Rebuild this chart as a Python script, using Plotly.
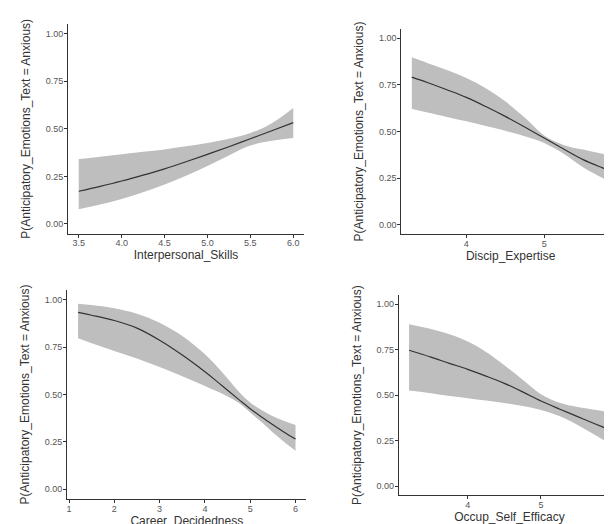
import plotly.graph_objects as go

W, H = 612, 524
YTITLE = "P(Anticipatory_Emotions_Text = Anxious)"

# Panel 1: Interpersonal_Skills
p1_x = [3.5, 3.75, 4.0, 4.25, 4.5, 4.75, 5.0, 5.25, 5.5, 5.75, 6.0]
p1_fit = [0.172, 0.198, 0.226, 0.257, 0.290, 0.327, 0.366, 0.406, 0.448, 0.490, 0.533]
p1_upper = [0.341, 0.354, 0.366, 0.379, 0.392, 0.408, 0.426, 0.448, 0.478, 0.530, 0.610]
p1_lower = [0.077, 0.102, 0.131, 0.167, 0.207, 0.254, 0.305, 0.360, 0.412, 0.437, 0.452]
p1_ticks = [3.5, 4.0, 4.5, 5.0, 5.5, 6.0]

# Panel 2: Discip_Expertise
p2_x = [3.3, 3.5, 3.75, 4.0, 4.25, 4.5, 4.75, 5.0, 5.25, 5.5, 5.75, 6.0]
p2_fit = [0.792, 0.763, 0.724, 0.683, 0.634, 0.581, 0.524, 0.465, 0.406, 0.349, 0.305, 0.265]
p2_upper = [0.898, 0.868, 0.830, 0.787, 0.732, 0.662, 0.575, 0.479, 0.428, 0.403, 0.380, 0.356]
p2_lower = [0.622, 0.602, 0.578, 0.555, 0.530, 0.504, 0.474, 0.438, 0.380, 0.308, 0.250, 0.198]
p2_ticks = [4, 5, 6]

# Panel 3: Career_Decidedness
p3_x = [1.2, 1.5, 2.0, 2.5, 3.0, 3.5, 4.0, 4.25, 4.5, 4.75, 5.0, 5.25, 5.5, 5.75, 6.0]
p3_fit = [0.933, 0.918, 0.890, 0.850, 0.786, 0.708, 0.620, 0.572, 0.522, 0.473, 0.425, 0.381, 0.340, 0.301, 0.265]
p3_upper = [0.979, 0.972, 0.955, 0.926, 0.878, 0.808, 0.712, 0.652, 0.585, 0.515, 0.458, 0.418, 0.385, 0.360, 0.339]
p3_lower = [0.796, 0.770, 0.729, 0.690, 0.645, 0.596, 0.545, 0.518, 0.490, 0.455, 0.405, 0.355, 0.300, 0.250, 0.204]
p3_ticks = [1, 2, 3, 4, 5, 6]

# Panel 4: Occup_Self_Efficacy
p4_x = [3.2, 3.5, 3.75, 4.0, 4.25, 4.5, 4.75, 5.0, 5.25, 5.5, 5.75, 6.0]
p4_fit = [0.747, 0.709, 0.675, 0.642, 0.605, 0.565, 0.518, 0.468, 0.424, 0.382, 0.340, 0.299]
p4_upper = [0.890, 0.864, 0.835, 0.795, 0.738, 0.665, 0.585, 0.505, 0.458, 0.435, 0.418, 0.402]
p4_lower = [0.525, 0.510, 0.495, 0.483, 0.470, 0.457, 0.440, 0.418, 0.385, 0.336, 0.278, 0.217]
p4_ticks = [4, 5, 6]

y_ticks = [0.0, 0.25, 0.5, 0.75, 1.0]
y_ticktext = ["0.00", "0.25", "0.50", "0.75", "1.00"]

panels = [
    dict(x=p1_x, fit=p1_fit, up=p1_upper, lo=p1_lower, ticks=p1_ticks, fmt="{:.1f}",
         title="Interpersonal_Skills", xr=[3.375, 6.125], xd=[60 / W, 296 / W],
         yd=[1 - 225.5 / H, 1 - 16.2 / H]),
    dict(x=p2_x, fit=p2_fit, up=p2_upper, lo=p2_lower, ticks=p2_ticks, fmt="{:d}",
         title="Discip_Expertise", xr=[3.165, 5.974], xd=[393.3 / W, 1.0],
         yd=[1 - 226 / H, 1 - 21 / H]),
    dict(x=p3_x, fit=p3_fit, up=p3_upper, lo=p3_lower, ticks=p3_ticks, fmt="{:d}",
         title="Career_Decidedness", xr=[0.96, 6.24], xd=[59.2 / W, 298.4 / W],
         yd=[1 - 490.8 / H, 1 - 282.2 / H]),
    dict(x=p4_x, fit=p4_fit, up=p4_upper, lo=p4_lower, ticks=p4_ticks, fmt="{:d}",
         title="Occup_Self_Efficacy", xr=[3.06, 6.078], xd=[390.8 / W, 1.0],
         yd=[1 - 487.1 / H, 1 - 287.2 / H]),
]

fig = go.Figure()
layout = {}
FONT = "Liberation Sans, Arial, sans-serif"
for i, p in enumerate(panels, start=1):
    xa = "x" if i == 1 else f"x{i}"
    ya = "y" if i == 1 else f"y{i}"
    fig.add_trace(go.Scatter(x=p["x"], y=p["lo"], mode="lines",
                             line=dict(width=0, shape="spline", smoothing=1),
                             xaxis=xa, yaxis=ya, showlegend=False, hoverinfo="skip"))
    fig.add_trace(go.Scatter(x=p["x"], y=p["up"], mode="lines",
                             line=dict(width=0, shape="spline", smoothing=1),
                             fill="tonexty", fillcolor="#BEBEBE",
                             xaxis=xa, yaxis=ya, showlegend=False, hoverinfo="skip"))
    fig.add_trace(go.Scatter(x=p["x"], y=p["fit"], mode="lines",
                             line=dict(color="#333333", width=1.2, shape="spline", smoothing=1),
                             xaxis=xa, yaxis=ya, showlegend=False))
    xk = "xaxis" if i == 1 else f"xaxis{i}"
    yk = "yaxis" if i == 1 else f"yaxis{i}"
    layout[xk] = dict(
        domain=p["xd"], range=p["xr"], anchor=ya,
        tickvals=p["ticks"], ticktext=[p["fmt"].format(t) for t in p["ticks"]],
        ticks="outside", ticklen=3, tickwidth=1, tickcolor="#333333",
        showline=True, linecolor="#333333", linewidth=1, mirror=False,
        showgrid=False, zeroline=False,
        ticklabelstandoff=-2,
        tickfont=dict(family=FONT, size=9, color="#555555"),
        title=dict(text=p["title"], font=dict(family=FONT, size=12, color="#333333"),
                   standoff=2),
        automargin=False,
    )
    layout[yk] = dict(
        domain=p["yd"], range=[-0.05, 1.05], anchor=xa,
        tickvals=y_ticks, ticktext=y_ticktext,
        ticks="outside", ticklen=3, tickwidth=1, tickcolor="#333333",
        showline=True, linecolor="#333333", linewidth=1,
        showgrid=False, zeroline=False,
        ticklabelstandoff=-1,
        tickfont=dict(family=FONT, size=9, color="#555555"),
        title=dict(text=YTITLE, font=dict(family=FONT, size=12, color="#333333"),
                   standoff=12),
        automargin=False,
    )

fig.update_layout(
    width=W, height=H,
    margin=dict(l=0, r=0, t=0, b=0),
    paper_bgcolor="white", plot_bgcolor="white",
    **layout,
)
fig.write_html("out.html")
